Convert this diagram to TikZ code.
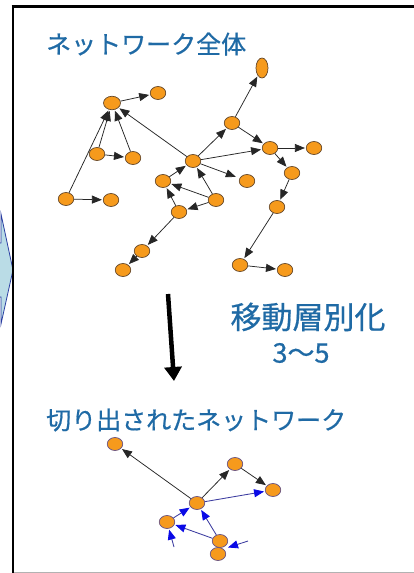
\documentclass[tikz,border=0pt]{standalone}
\usepackage{fontspec}
\newfontfamily\cjk[FakeBold=0.6]{Noto Sans CJK JP}
\usetikzlibrary{shapes.geometric,arrows.meta}
\definecolor{nodeor}{RGB}{246,154,28}
\definecolor{nodeedge}{RGB}{100,70,40}
\definecolor{nodeedgeb}{RGB}{100,80,130}
\definecolor{txtblue}{RGB}{31,106,165}
\definecolor{navyline}{RGB}{60,60,160}
\definecolor{tipblue}{RGB}{10,10,230}
\definecolor{arrowfill}{RGB}{186,220,230}
\definecolor{arrowline}{RGB}{40,60,160}
\tikzset{
  nd/.style={ellipse, draw=nodeedge, fill=nodeor, line width=0.7pt, minimum width=15.5pt, minimum height=13pt, inner sep=0pt},
  ndb/.style={nd, draw=nodeedgeb},
  blk/.style={line width=0.75pt, draw=black!85, -{Triangle[length=10pt,width=8pt]}, shorten >=1pt},
  blu/.style={line width=0.85pt, draw=navyline, -{Triangle[length=10pt,width=8pt,color=tipblue]}, shorten >=1pt},
  ttl/.style={text=txtblue, inner sep=0pt, font=\cjk\fontsize{25}{30}\selectfont},
}
\begin{document}
\begin{tikzpicture}[x=1pt,y=-1pt]
\useasboundingbox (0,0) rectangle (414,573);
\fill[white] (0,0) rectangle (414,573);
% left block arrow (partly visible)
\draw[fill=arrowfill, draw=arrowline, line width=0.8pt]
  (-6,243) -- (1,243) -- (1,214) -- (13,270) -- (1,324) -- (1,297) -- (-6,297) -- cycle;
% frame
\draw[line width=3pt] (11.5,6) -- (414,6);
\draw[line width=2.6pt] (13,5) -- (13,573);
\draw[line width=1pt, gray!60] (14,572) -- (414,572);
% titles
\node[ttl, anchor=west] (t1) at (46,44) {ネットワーク全体};
\node[ttl, anchor=west] (t2) at (46,420) {切り出されたネットワーク};
\node[ttl, font=\cjk\fontsize{31}{36}\selectfont] (t3) at (308,317) {移動層別化};
\node[ttl, font=\cjk\fontsize{27}{32}\selectfont] (t4) at (301,353) {3〜5};
% top network nodes
\node[nd, minimum width=17pt, minimum height=13.5pt] (A) at (112,103) {};
\node[nd] (B) at (158,93) {};
\node[nd] (C) at (97,154) {};
\node[nd] (D) at (133,158) {};
\node[nd] (E) at (66,199) {};
\node[nd] (F) at (111,200) {};
\node[nd] (G) at (193,161) {};
\node[nd] (H) at (163,181) {};
\node[nd] (I) at (247,181) {};
\node[nd] (J) at (216,200) {};
\node[nd] (K) at (179,212) {};
\node[nd] (L) at (142,251) {};
\node[nd] (M) at (123,270) {};
\node[nd] (N) at (232,123) {};
\node[nd, minimum width=12pt, minimum height=20pt] (O) at (262,68) {};
\node[nd] (P) at (270,148) {};
\node[nd] (Q) at (314,148) {};
\node[nd] (R) at (292,173) {};
\node[nd] (S) at (277,207) {};
\node[nd] (T) at (240,265) {};
\node[nd] (U) at (285,270) {};
% top network edges
\draw[blk] (A) -- (B);
\draw[blk] (E) -- (A);
\draw[blk] (C) -- (A);
\draw[blk] (D) -- (A);
\draw[blk] (C) -- (D);
\draw[blk] (E) -- (F);
\draw[blk] (G) -- (A);
\draw[blk] (G) -- (N);
\draw[blk] (N) -- (O);
\draw[blk] (N) -- (P);
\draw[blk] (G) -- (P);
\draw[blk] (P) -- (Q);
\draw[blk] (P) -- (R);
\draw[blk] (R) -- (S);
\draw[blk] (S) -- (T);
\draw[blk] (T) -- (U);
\draw[blk, shorten >=4pt] (G) -- (I);
\draw[blk] (H) -- (G);
\draw[blk] (J) -- (G);
\draw[blk] (J) -- (H);
\draw[blk] (J) -- (K);
\draw[blk] (K) -- (H);
\draw[blk] (K) -- (L);
\draw[blk] (L) -- (M);
% big arrow
\coordinate (ba1) at (168,294);
\coordinate (ba2) at (174,381);
\draw[line width=4.5pt, -{Triangle[length=14pt,width=17pt]}] (ba1) -- (ba2);
% bottom network nodes
\node[ndb] (a) at (115,444) {};
\node[ndb] (b) at (235,464) {};
\node[ndb] (c) at (273,490) {};
\node[ndb] (d) at (197,503) {};
\node[ndb] (e) at (167,522) {};
\node[ndb] (f) at (220,541) {};
\node[ndb] (g) at (218,554) {};
% bottom network edges
\draw[blk] (d) -- (a);
\draw[blk] (d) -- (b);
\draw[blk] (b) -- (c);
\draw[blu] (d) -- (c);
\draw[blu] (e) -- (d);
\draw[blu] (f) -- (d);
\draw[blu] (f) -- (e);
\coordinate (p1) at (174,547);
\draw[blu] (p1) -- (e);
\coordinate (p2) at (248,541);
\coordinate (p3) at (228,547.5);
\draw[blu, shorten >=0pt] (p2) -- (p3);
\end{tikzpicture}
\end{document}
